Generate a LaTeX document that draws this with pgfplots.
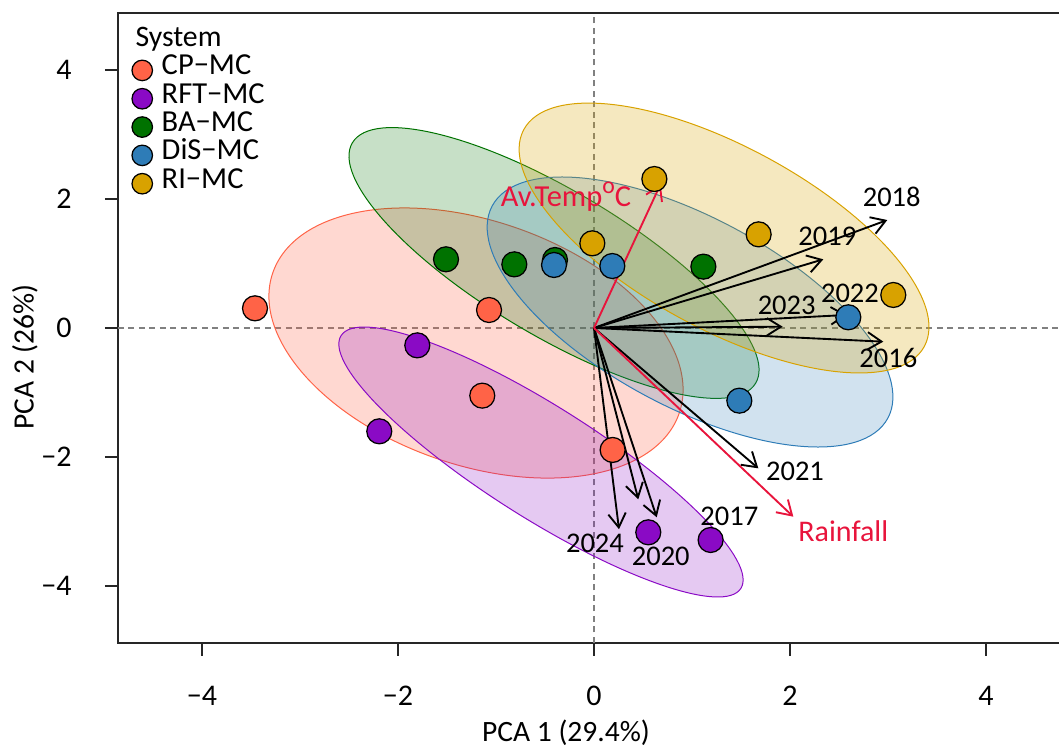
\documentclass[border=0pt]{standalone}
\usepackage{fontspec}
\setmainfont{Carlito}
\usepackage{pgfplots}
\pgfplotsset{compat=1.18}
\usetikzlibrary{arrows.meta}

\definecolor{cCP}{RGB}{255,99,71}
\definecolor{cRFT}{RGB}{138,10,197}
\definecolor{cBA}{RGB}{0,114,0}
\definecolor{cDiS}{RGB}{46,124,183}
\definecolor{cRI}{RGB}{216,162,0}
\definecolor{cRed}{RGB}{232,20,60}

\begin{document}
\begin{tikzpicture}
\begin{axis}[
  name=ax,
  scale only axis,
  width=380.8pt, height=252pt,
  xmin=-4.857, xmax=4.857, ymin=-4.884, ymax=4.884,
  axis line style={line width=0.6pt, black!85},
  tick style={line width=0.6pt, black!85},
  tick align=outside, major tick length=5.2pt,
  tick pos=left,
  xtick={-4,-2,0,2,4}, ytick={-4,-2,0,2,4},
  xticklabels={−4,−2,0,2,4}, yticklabels={−4,−2,0,2,4},
  ticklabel style={font=\fontsize{12}{14}\selectfont},
  xticklabel style={anchor=north, inner sep=0pt, yshift=-12pt},
  yticklabel style={anchor=east, inner sep=0pt, xshift=-13.2pt},
  legend style={draw=none, fill=none, at={(rel axis cs:0,1)}, anchor=north west,
    xshift=5.6pt, yshift=-17.3pt, inner sep=0pt, outer sep=0pt, row sep=0pt, column sep=3.7pt,
    font=\fontsize{12.2}{14}\selectfont,
    nodes={inner sep=0pt, outer sep=0pt, text height=7.4pt, text depth=3.93pt}},
  legend cell align=left,
  legend image code/.code={\draw[#1, mark size=4.1pt] plot coordinates {(0pt,0pt)};},
]
\coordinate (SW) at (rel axis cs:0,0);
% reference lines
\addplot[forget plot, gray, line width=0.45pt, dash pattern=on 2.4pt off 1.8pt] coordinates {(-4.857,0) (4.857,0)};
\addplot[forget plot, gray, line width=0.45pt, dash pattern=on 2.4pt off 1.8pt] coordinates {(0,-4.884) (0,4.884)};

% ellipses
\filldraw[fill=cCP, fill opacity=0.25, draw=cCP, line width=0.4pt, rotate around={-19.1:(axis cs:-1.204,-0.233)}] (axis cs:-1.204,-0.233) ellipse [x radius=86pt, y radius=48.8pt];
\filldraw[fill=cRFT, fill opacity=0.22, draw=cRFT, line width=0.4pt, rotate around={-32.3:(axis cs:-0.541,-2.078)}] (axis cs:-0.541,-2.078) ellipse [x radius=94.6pt, y radius=22.4pt];
\filldraw[fill=cBA, fill opacity=0.22, draw=cBA, line width=0.4pt, rotate around={-30.8:(axis cs:-0.408,1.008)}] (axis cs:-0.408,1.008) ellipse [x radius=93.9pt, y radius=29pt];
\filldraw[fill=cDiS, fill opacity=0.22, draw=cDiS, line width=0.4pt, rotate around={-28.2:(axis cs:0.980,0.248)}] (axis cs:0.980,0.248) ellipse [x radius=89.8pt, y radius=37.9pt];
\filldraw[fill=cRI, fill opacity=0.25, draw=cRI, line width=0.4pt, rotate around={-28.45:(axis cs:1.327,1.395)}] (axis cs:1.327,1.395) ellipse [x radius=91.1pt, y radius=36.5pt];

% points
\addplot[only marks, mark=*, mark size=5pt, mark options={fill=cCP, draw=black, line width=0.5pt}]
  coordinates {(-3.459,0.305) (-1.071,0.279) (-1.140,-1.049) (0.190,-1.891)};
\addlegendentry{CP−MC}
\addplot[only marks, mark=*, mark size=5pt, mark options={fill=cRFT, draw=black, line width=0.5pt}]
  coordinates {(-1.803,-0.269) (-2.191,-1.602) (0.554,-3.168) (1.190,-3.287)};
\addlegendentry{RFT−MC}
\addplot[only marks, mark=*, mark size=5pt, mark options={fill=cBA, draw=black, line width=0.5pt}]
  coordinates {(-1.510,1.065) (-0.813,0.987) (-0.398,1.054) (1.116,0.951)};
\addlegendentry{BA−MC}
\addplot[only marks, mark=*, mark size=5pt, mark options={fill=cDiS, draw=black, line width=0.5pt}]
  coordinates {(-0.408,0.977) (0.187,0.961) (2.595,0.166) (1.483,-1.127)};
\addlegendentry{DiS−MC}
\addplot[only marks, mark=*, mark size=5pt, mark options={fill=cRI, draw=black, line width=0.5pt}]
  coordinates {(0.616,2.310) (-0.017,1.313) (1.680,1.452) (3.054,0.512)};
\addlegendentry{RI−MC}

% loadings arrows
\pgfplotsset{arr/.style={forget plot, line width=0.75pt, -{Straight Barb[length=5.6pt, width=7pt]}}}
\addplot[arr, black] coordinates {(0,0) (2.993,1.674)};
\addplot[arr, black] coordinates {(0,0) (2.340,1.065)};
\addplot[arr, black] coordinates {(0,0) (2.578,0.202)};
\addplot[arr, black] coordinates {(0,0) (1.925,0.020)};
\addplot[arr, black] coordinates {(0,0) (2.952,-0.212)};
\addplot[arr, black] coordinates {(0,0) (1.677,-2.176)};
\addplot[arr, black] coordinates {(0,0) (0.255,-3.120)};
\addplot[arr, black] coordinates {(0,0) (0.452,-2.656)};
\addplot[arr, black] coordinates {(0,0) (0.640,-2.935)};
\addplot[arr, cRed] coordinates {(0,0) (0.680,2.233)};
\addplot[arr, cRed] coordinates {(0,0) (2.034,-2.926)};

% arrow labels
\begin{scope}[font=\fontsize{11.4}{13}\selectfont]
\node at (axis cs:3.038,2.026) {2018};
\node at (axis cs:2.381,1.416) {2019};
\node at (axis cs:2.612,0.538) {2022};
\node at (axis cs:1.966,0.357) {2023};
\node at (axis cs:3.003,-0.470) {2016};
\node at (axis cs:2.051,-2.217) {2021};
\node at (axis cs:0.010,-3.338) {2024};
\node at (axis cs:0.681,-3.535) {2020};
\node at (axis cs:1.381,-2.915) {2017};
\node[text=cRed, anchor=base, font=\fontsize{12.2}{14}\selectfont] at (axis cs:-0.286,1.881) {Av.Temp\raisebox{0.9ex}{\fontsize{9.5}{10}\selectfont o}C};
\node[text=cRed, font=\fontsize{12}{14}\selectfont] at (axis cs:2.544,-3.158) {Rainfall};
\end{scope}
\end{axis}

\node[anchor=base west, inner sep=0pt, font=\fontsize{11.9}{13}\selectfont] at ([xshift=6.8pt, yshift=252pt-13.5pt]SW) {System};
\node[font=\fontsize{11.8}{14}\selectfont] at ([xshift=179.2pt, yshift=-36pt]SW) {PCA 1 (29.4\%)};
\node[rotate=90, font=\fontsize{11.8}{14}\selectfont] at ([xshift=-37.2pt, yshift=114.4pt]SW) {PCA 2 (26\%)};

\pgfresetboundingbox
\path[use as bounding box] ([xshift=-47.2pt, yshift=-42pt]SW) rectangle ([xshift=376.4pt, yshift=257.2pt]SW);
\end{tikzpicture}
\end{document}
